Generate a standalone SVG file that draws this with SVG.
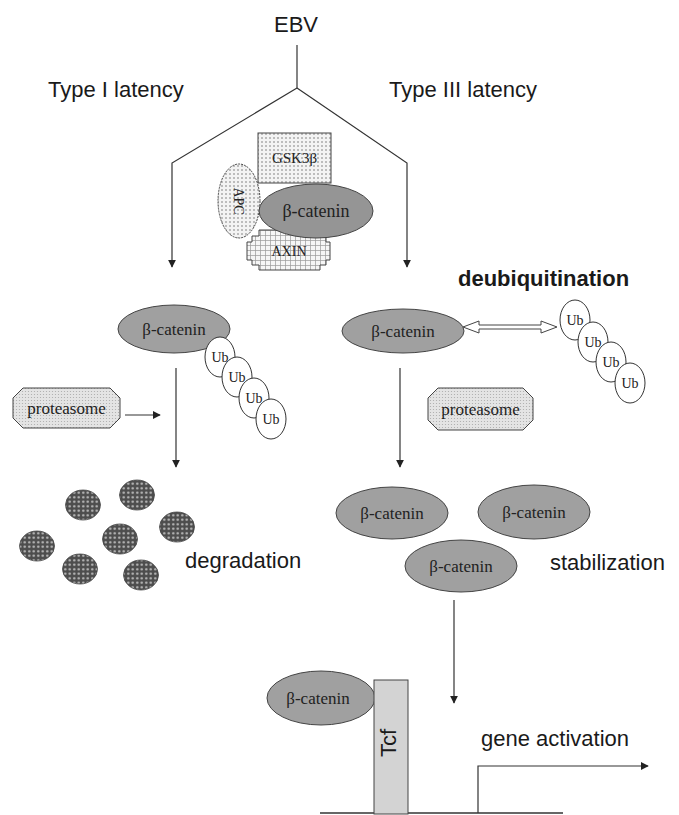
<svg xmlns="http://www.w3.org/2000/svg" width="679" height="815" viewBox="0 0 679 815">
<style>
.lbl{font-family:"Liberation Sans",Arial,sans-serif;font-size:22px;fill:#1a1a1a}
.ser{font-family:"Liberation Serif","Times New Roman",serif;fill:#222;text-anchor:middle}
.cat{fill:#a0a0a0;stroke:#444;stroke-width:1}
.ub{fill:#fff;stroke:#333;stroke-width:1}
.ln{fill:none;stroke:#333;stroke-width:1.2}
.arr{fill:none;stroke:#333;stroke-width:1.2;marker-end:url(#ah)}
.deg{fill:url(#pDeg);stroke:#444;stroke-width:0.8}
</style>
<defs>
<marker id="ah" viewBox="0 0 10 10" refX="9" refY="5" markerWidth="8" markerHeight="8" markerUnits="userSpaceOnUse" orient="auto">
<path d="M0,0 L10,5 L0,10 z" fill="#222"/>
</marker>
<pattern id="pDot" width="4" height="4" patternUnits="userSpaceOnUse">
<rect width="4" height="4" fill="#f3f3f3"/><circle cx="2" cy="2" r="0.8" fill="#777"/>
</pattern>
<pattern id="pGrid" width="5" height="5" patternUnits="userSpaceOnUse">
<rect width="5" height="5" fill="#f6f6f6"/><path d="M0,0.5 H5 M0.5,0 V5" stroke="#999" stroke-width="0.7"/>
</pattern>
<pattern id="pProt" width="3" height="3" patternUnits="userSpaceOnUse">
<rect width="3" height="3" fill="#e4e4e4"/><circle cx="1.5" cy="1.5" r="0.6" fill="#aaa"/>
</pattern>
<pattern id="pDeg" width="4.5" height="4.5" patternUnits="userSpaceOnUse">
<rect width="4.5" height="4.5" fill="#4d4d4d"/><circle cx="2.25" cy="2.25" r="1.2" fill="#c0c0c0"/>
</pattern>
</defs>

<g id="labels">
<text class="lbl" x="296" y="32" text-anchor="middle" font-size="21">EBV</text>
<text class="lbl" x="48" y="97">Type I latency</text>
<text class="lbl" x="389" y="97">Type III latency</text>
<text class="lbl" x="458" y="286" font-size="15" font-weight="bold">deubiquitination</text>
<text class="lbl" x="185" y="568">degradation</text>
<text class="lbl" x="550" y="570">stabilization</text>
<text class="lbl" x="481" y="746" font-size="20">gene activation</text>
</g>

<g id="connectors">
<path class="ln" d="M297 45 V88"/>
<path class="arr" d="M297 88 L172 163 V267"/>
<path class="arr" d="M297 88 L407 163 V267"/>
<path class="arr" d="M176 368 V467"/>
<path class="arr" d="M125 415 H160"/>
<path class="arr" d="M400 368 V467"/>
<path class="arr" d="M454 600 V703"/>
<path class="arr" d="M478 813 V766 H648"/>
<polygon points="463,327 479,321 479,325 541,325 541,321 557,327 541,333 541,329 479,329 479,333" fill="#fff" stroke="#444" stroke-width="1"/>
</g>

<g id="complex">
<g id="gsk3b">
<rect x="258" y="133" width="73" height="50" fill="url(#pDot)" stroke="#444" stroke-width="1"/>
<text class="ser" x="294.5" y="163" font-size="15" fill="#444">GSK3β</text>
</g>
<g id="axin">
<polygon points="259,230 320,230 320,236 326,236 326,242 330,242 330,260 326,260 326,265 320,265 320,270 259,270 259,265 252,265 252,260 247,260 247,242 252,242 252,236 259,236" fill="url(#pGrid)" stroke="#444" stroke-width="1"/>
<text class="ser" x="289" y="256" font-size="14" fill="#333">AXIN</text>
</g>
<g id="apc">
<ellipse cx="239" cy="201" rx="21" ry="37" fill="url(#pDot)" stroke="#444" stroke-width="1" stroke-dasharray="2,1"/>
<text class="ser" transform="translate(239 201) rotate(90)" x="0" y="5" font-size="14" fill="#333">APC</text>
</g>
<g id="cat-complex">
<ellipse class="cat" cx="316" cy="211" rx="57" ry="27" style="fill:#959595"/>
<text class="ser" x="316" y="217" font-size="18">β-catenin</text>
</g>
</g>

<g id="left-cat">
<ellipse class="cat" cx="174" cy="329" rx="56" ry="24"/>
<text class="ser" x="174" y="335" font-size="17">β-catenin</text>
</g>
<g id="left-ub">
<ellipse class="ub" cx="220" cy="357" rx="15" ry="20"/><text class="ser" x="220" y="362" font-size="14">Ub</text>
<ellipse class="ub" cx="237" cy="377" rx="15" ry="20"/><text class="ser" x="237" y="382" font-size="14">Ub</text>
<ellipse class="ub" cx="254" cy="398" rx="15" ry="20"/><text class="ser" x="254" y="403" font-size="14">Ub</text>
<ellipse class="ub" cx="271" cy="419" rx="15" ry="20"/><text class="ser" x="271" y="424" font-size="14">Ub</text>
</g>
<g id="left-proteasome">
<polygon points="23,388 110,388 120,398 120,418 110,428 23,428 13,418 13,398" fill="url(#pProt)" stroke="#444" stroke-width="1"/>
<text class="ser" x="66.5" y="414" font-size="17">proteasome</text>
</g>

<g id="right-cat">
<ellipse class="cat" cx="403" cy="331" rx="61" ry="22"/>
<text class="ser" x="403" y="337" font-size="17">β-catenin</text>
</g>
<g id="right-ub">
<ellipse class="ub" cx="575" cy="320" rx="15" ry="20"/><text class="ser" x="575" y="325" font-size="14">Ub</text>
<ellipse class="ub" cx="593" cy="342" rx="15" ry="20"/><text class="ser" x="593" y="347" font-size="14">Ub</text>
<ellipse class="ub" cx="611" cy="362" rx="15" ry="20"/><text class="ser" x="611" y="367" font-size="14">Ub</text>
<ellipse class="ub" cx="630" cy="383" rx="15" ry="20"/><text class="ser" x="630" y="388" font-size="14">Ub</text>
</g>
<g id="right-proteasome">
<polygon points="438,388 523,388 533,398 533,420 523,430 438,430 428,420 428,398" fill="url(#pProt)" stroke="#444" stroke-width="1"/>
<text class="ser" x="480.5" y="415" font-size="17">proteasome</text>
</g>

<g id="degraded">
<ellipse class="deg" cx="83" cy="505" rx="17.5" ry="15"/>
<ellipse class="deg" cx="137" cy="495" rx="17.5" ry="15"/>
<ellipse class="deg" cx="177" cy="527" rx="17.5" ry="15"/>
<ellipse class="deg" cx="120" cy="539" rx="17.5" ry="15"/>
<ellipse class="deg" cx="37" cy="546" rx="17.5" ry="15"/>
<ellipse class="deg" cx="80" cy="569" rx="17.5" ry="15"/>
<ellipse class="deg" cx="141" cy="575" rx="17.5" ry="15"/>
</g>

<g id="stable-cat">
<ellipse class="cat" cx="392" cy="513" rx="56" ry="26"/>
<text class="ser" x="392" y="519" font-size="17">β-catenin</text>
<ellipse class="cat" cx="534" cy="512" rx="56" ry="27"/>
<text class="ser" x="534" y="518" font-size="17">β-catenin</text>
<ellipse class="cat" cx="461" cy="566" rx="56" ry="26"/>
<text class="ser" x="461" y="572" font-size="17">β-catenin</text>
</g>

<g id="promoter">
<line x1="320" y1="813" x2="563" y2="813" stroke="#333" stroke-width="1.5"/>
</g>
<g id="tcf-cat">
<ellipse class="cat" cx="321" cy="698" rx="54" ry="27"/>
<text class="ser" x="318" y="704" font-size="17">β-catenin</text>
</g>
<g id="tcf">
<rect x="374" y="680" width="34" height="134" fill="#d3d3d3" stroke="#444" stroke-width="1"/>
<text class="lbl" transform="translate(391 743) rotate(-90)" x="0" y="5" font-size="15" text-anchor="middle">Tcf</text>
</g>
</svg>
